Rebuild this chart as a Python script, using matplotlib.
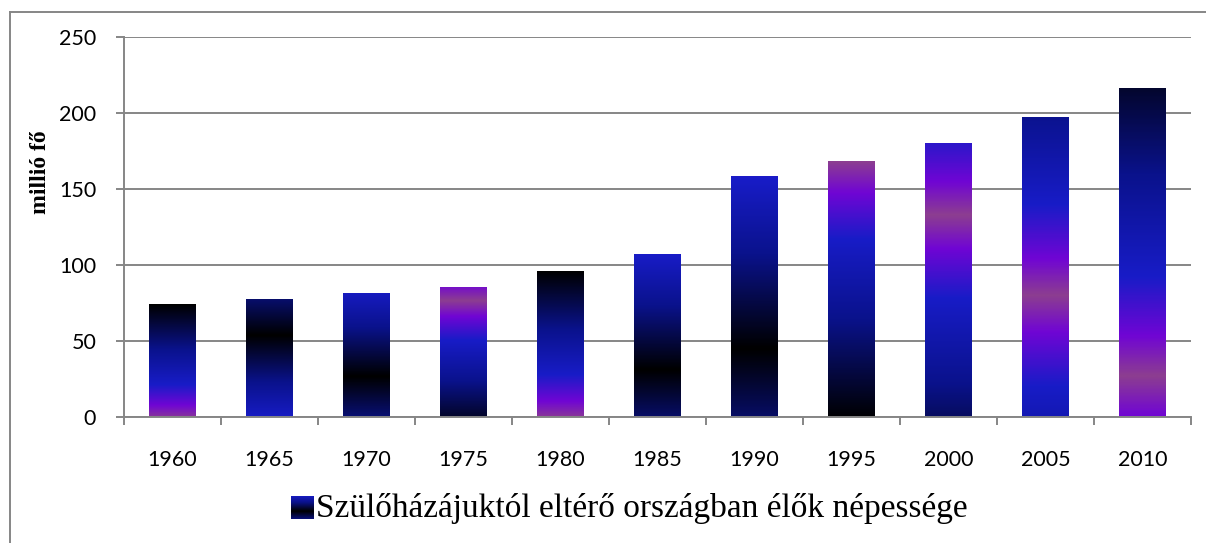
import numpy as np
import matplotlib
matplotlib.use("Agg")
import matplotlib.pyplot as plt
from matplotlib.colors import LinearSegmentedColormap
from matplotlib.lines import Line2D

years = ["1960", "1965", "1970", "1975", "1980", "1985",
         "1990", "1995", "2000", "2005", "2010"]
population = [74, 77.5, 81, 85, 96, 107, 158, 168, 180, 197, 216]
yticks = [0, 50, 100, 150, 200, 250]
ylabel = "millió fő"
series_name = "Szülőházájuktól eltérő országban élők népessége"

# Excel "Nightfall" style gradient, each bar starts at a different phase
nightfall = LinearSegmentedColormap.from_list("nightfall", [
    (0.00, "#000000"),
    (0.39, "#0A128C"),
    (0.70, "#181CC7"),
    (0.88, "#7005D4"),
    (1.00, "#8C3D91"),
])
phases = [1.0, 1.3, 1.66, 0.1, 1.0, 1.7, 1.71, 0.0, 0.26, 0.59, 0.87]
legend_phase = 1.66


def fold(x):
    x = np.mod(x, 2)
    return np.where(x > 1, 2 - x, x)


def gradient(phase, n=300):
    h = np.linspace(0, 1, n)
    return fold(phase + h)[:, None]


W, H = 1206, 543
fig = plt.figure(figsize=(W / 100, H / 100), dpi=100)
ax = fig.add_axes([124 / W, 1 - 417 / H, (1191 - 124) / W, (417 - 37) / H])

grid_c = "#868686"
x = np.arange(len(years))
bars = ax.bar(x, population, width=0.476, color="none", edgecolor="none")
for b, ph in zip(bars, phases):
    x0, w, hgt = b.get_x(), b.get_width(), b.get_height()
    ax.imshow(gradient(ph), cmap=nightfall, vmin=0, vmax=1, origin="lower",
              extent=(x0, x0 + w, -1.5, hgt), aspect="auto",
              interpolation="bilinear", zorder=2)

ax.set_xlim(-0.5, len(years) - 0.5)
ax.set_ylim(0, 250)
ax.set_yticks(yticks)
ax.yaxis.grid(True, color=grid_c, lw=1.4)
ax.set_axisbelow(True)
for s in ["top", "right"]:
    ax.spines[s].set_visible(False)
ax.spines["left"].set_color(grid_c)
ax.spines["left"].set_linewidth(1.4)
ax.spines["bottom"].set_color(grid_c)
ax.spines["bottom"].set_linewidth(1.4)
ax.spines["bottom"].set_zorder(3)

# tick marks between categories, labels centered on categories
ax.set_xticks(np.arange(len(years) + 1) - 0.5)
ax.set_xticklabels([])
ax.set_xticks(x, minor=True)
ax.set_xticklabels(years, minor=True, fontsize=15.5, family="Lato")
ax.tick_params(axis="x", which="major", length=6, width=1.4, color=grid_c)
ax.tick_params(axis="x", which="minor", length=0, pad=24)
ax.tick_params(axis="y", length=6, width=1.4, color=grid_c, pad=14,
               labelsize=15.5)
for t in ax.get_yticklabels():
    t.set_family("Lato")

fig.text(40 / W, 1 - 172 / H, ylabel, rotation=90, ha="center", va="center",
         family="Liberation Serif", fontweight="bold", fontsize=17)

# legend: gradient swatch + text
lax = fig.add_axes([291 / W, 1 - 519 / H, 23 / W, 23 / H])
lax.imshow(gradient(legend_phase), cmap=nightfall, vmin=0, vmax=1,
           origin="lower", aspect="auto", interpolation="bilinear")
lax.axis("off")
fig.text(316 / W, 1 - 508 / H, series_name, ha="left", va="center",
         family="Liberation Serif", fontsize=24)

# chart area border (only left and top edges visible)
fig.add_artist(Line2D([10 / W, 10 / W], [0, 1 - 12 / H], color=grid_c, lw=1.4))
fig.add_artist(Line2D([10 / W, 1], [1 - 12 / H, 1 - 12 / H], color=grid_c, lw=1.4))

fig.savefig("out.png", dpi=100)
